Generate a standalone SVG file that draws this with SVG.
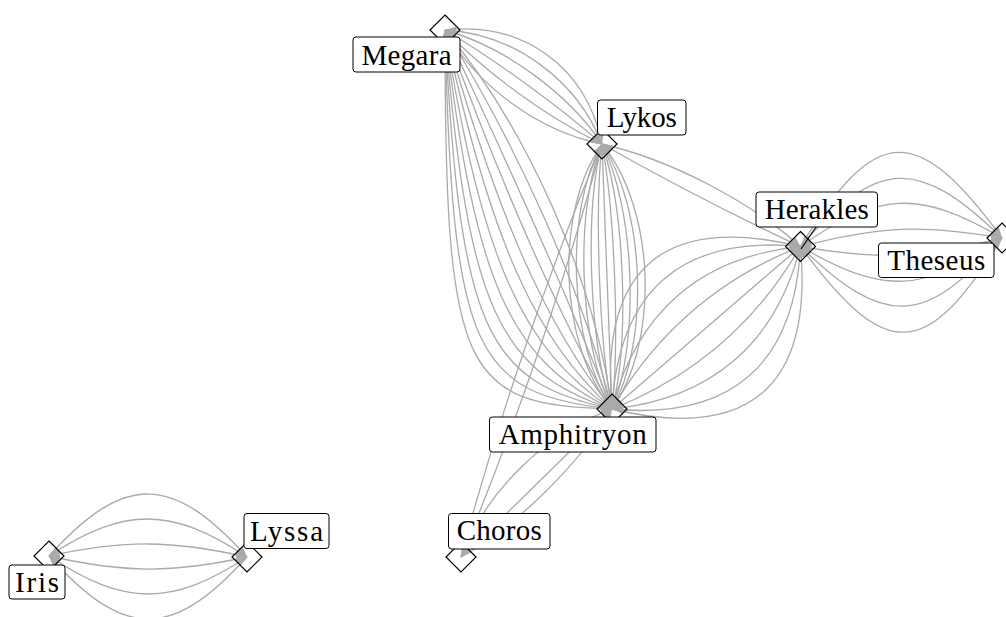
<svg xmlns="http://www.w3.org/2000/svg" width="1006" height="617" viewBox="0 0 1006 617">
<style>
.e{fill:none;stroke:#aaaaaa;stroke-width:1.3;marker-end:url(#ah)}
.d{fill:none;stroke:#000;stroke-width:1.2}
.b{fill:#fff;stroke:#000;stroke-width:1}
.t{font-family:"Liberation Serif",serif;font-size:29px;fill:#000;text-anchor:middle}
</style>
<defs>
<marker id="ah" markerUnits="userSpaceOnUse" markerWidth="11" markerHeight="8" refX="11" refY="4" orient="auto">
<path d="M0,0 L11,4 L0,8 z" fill="#aaaaaa"/>
</marker>
</defs>
<rect width="1006" height="617" fill="#fff"/>
<g id="connectors">
<path class="e" d="M49,556 C124.2,473.1 171.8,473.3 247,557"/>
<path class="e" d="M247,557 C171.8,506.6 124.2,506.4 49,556"/>
<path class="e" d="M49,556 C124.2,539.7 171.8,539.9 247,557"/>
<path class="e" d="M247,557 C171.8,573.3 124.2,573.1 49,556"/>
<path class="e" d="M49,556 C124.2,606.4 171.8,606.6 247,557"/>
<path class="e" d="M247,557 C171.8,639.9 124.2,639.7 49,556"/>
<path class="e" d="M800.5,246.5 C876.1,123.2 916.4,121.5 1002,238"/>
<path class="e" d="M1002,238 C917.8,156.2 877.5,157.9 800.5,246.5"/>
<path class="e" d="M800.5,246.5 C878.9,191.2 919.2,189.5 1002,238"/>
<path class="e" d="M1002,238 C920.7,224.1 880.4,225.8 800.5,246.5"/>
<path class="e" d="M800.5,246.5 C881.8,260.4 922.1,258.7 1002,238"/>
<path class="e" d="M1002,238 C923.6,293.3 883.3,295 800.5,246.5"/>
<path class="e" d="M800.5,246.5 C884.7,328.3 925,326.6 1002,238"/>
<path class="e" d="M1002,238 C926.4,361.3 886.1,363 800.5,246.5"/>
<path class="e" d="M612,409 C599.3,268.6 663.4,213.3 800.5,246.5"/>
<path class="e" d="M800.5,246.5 C682.1,235 618,290.3 612,409"/>
<path class="e" d="M612,409 C636.8,312 700.9,256.7 800.5,246.5"/>
<path class="e" d="M800.5,246.5 C719.6,278.4 655.5,333.7 612,409"/>
<path class="e" d="M612,409 C674.2,355.4 738.3,300.1 800.5,246.5"/>
<path class="e" d="M800.5,246.5 C757,321.8 692.9,377.1 612,409"/>
<path class="e" d="M612,409 C711.6,398.8 775.7,343.5 800.5,246.5"/>
<path class="e" d="M800.5,246.5 C794.5,365.2 730.4,420.5 612,409"/>
<path class="e" d="M612,409 C749.1,442.2 813.2,386.9 800.5,246.5"/>
<path class="e" d="M602,144 C553.9,212.2 558.9,344.7 612,409"/>
<path class="e" d="M612,409 C569,344.3 564,211.8 602,144"/>
<path class="e" d="M602,144 C574.1,211.4 579.1,343.9 612,409"/>
<path class="e" d="M612,409 C589.2,343.5 584.2,211 602,144"/>
<path class="e" d="M602,144 C594.4,210.6 599.4,343.1 612,409"/>
<path class="e" d="M612,409 C609.5,342.75 604.5,210.25 602,144"/>
<path class="e" d="M602,144 C614.6,209.9 619.6,342.4 612,409"/>
<path class="e" d="M612,409 C629.8,342 624.8,209.5 602,144"/>
<path class="e" d="M602,144 C634.9,209.1 639.9,341.6 612,409"/>
<path class="e" d="M612,409 C650,341.2 645,208.7 602,144"/>
<path class="e" d="M602,144 C655.1,208.3 660.1,340.8 612,409"/>
<path class="e" d="M445,30 C445,375 462,405 612,409"/>
<path class="e" d="M612,409 C474.1,393.7 452.5,352.7 445,30"/>
<path class="e" d="M445,30 C460.1,330.3 486.1,382.4 612,409"/>
<path class="e" d="M612,409 C498.2,371.1 467.6,308 445,30"/>
<path class="e" d="M445,30 C475.2,285.6 510.3,359.8 612,409"/>
<path class="e" d="M612,409 C522.4,348.5 482.7,263.3 445,30"/>
<path class="e" d="M445,30 C490.3,240.9 534.4,337.3 612,409"/>
<path class="e" d="M612,409 C546.5,326 497.8,218.6 445,30"/>
<path class="e" d="M445,30 C505.4,196.2 558.6,314.7 612,409"/>
<path class="e" d="M612,409 C570.7,303.4 512.9,173.9 445,30"/>
<path class="e" d="M445,30 C520.5,151.5 582.7,292.1 612,409"/>
<path class="e" d="M612,409 C594.8,280.8 528,129.2 445,30"/>
<path class="e" d="M445,30 C523.4,21.1 586.2,66.7 602,144"/>
<path class="e" d="M602,144 C576.8,79.6 514,34 445,30"/>
<path class="e" d="M445,30 C504.6,47 567.4,92.6 602,144"/>
<path class="e" d="M602,144 C558,105.5 495.2,59.9 445,30"/>
<path class="e" d="M445,30 C485.8,72.9 548.6,118.5 602,144"/>
<path class="e" d="M602,144 C539.2,131.4 476.4,85.8 445,30"/>
<path class="e" d="M602,144 C669.5,159.4 748.9,200.4 800.5,246.5"/>
<path class="e" d="M800.5,246.5 C739.7,218.2 660.4,177.2 602,144"/>
<path class="e" d="M461,557 C494.5,430.1 550.9,264.9 602,144"/>
<path class="e" d="M602,144 C568.5,270.9 512.1,436.1 461,557"/>
<path class="e" d="M461,557 C485.8,491.7 546.2,432.5 612,409"/>
<path class="e" d="M612,409 C567.5,454.2 507.1,513.4 461,557"/>
<path class="e" d="M461,557 C518,524.5 578.4,465.3 612,409"/>
</g>
<g id="node-megara">
<polygon class="d" points="445,15 460,30 445,45 430,30"/>
<rect class="b" x="353" y="37" width="107" height="35" rx="3"/>
<text class="t" x="406.5" y="64.5" textLength="90">Megara</text>
</g>
<g id="node-lykos">
<polygon class="d" points="602,129 617,144 602,159 587,144"/>
<rect class="b" x="597.5" y="100" width="88.5" height="35" rx="3"/>
<text class="t" x="641.7" y="127" textLength="70">Lykos</text>
</g>
<g id="node-herakles">
<polygon class="d" points="800.5,231.5 815.5,246.5 800.5,261.5 785.5,246.5"/>
<path d="M801,249 L816,227" stroke="#000" stroke-width="1.2" fill="none"/>
<rect class="b" x="756" y="192" width="121.5" height="35" rx="3"/>
<text class="t" x="816.7" y="218.5" textLength="104">Herakles</text>
</g>
<g id="node-theseus">
<polygon class="d" points="1002,223 1017,238 1002,253 987,238"/>
<rect class="b" x="878.5" y="243" width="115.5" height="34.5" rx="3"/>
<text class="t" x="936.2" y="269.5" textLength="98">Theseus</text>
</g>
<g id="node-amphitryon">
<polygon class="d" points="612,394 627,409 612,424 597,409"/>
<rect class="b" x="489.5" y="417" width="166.5" height="35" rx="3"/>
<text class="t" x="572.7" y="443.5" textLength="148">Amphitryon</text>
</g>
<g id="node-iris">
<polygon class="d" points="49,541 64,556 49,571 34,556"/>
<rect class="b" x="9" y="565" width="56" height="34" rx="3"/>
<text class="t" x="37" y="591.5" textLength="44">Iris</text>
</g>
<g id="node-lyssa">
<polygon class="d" points="247,542 262,557 247,572 232,557"/>
<rect class="b" x="244" y="513.5" width="85" height="35" rx="3"/>
<text class="t" x="286.5" y="540.5" textLength="73">Lyssa</text>
</g>
<g id="node-choros">
<polygon class="d" points="461,542 476,557 461,572 446,557"/>
<rect class="b" x="448.5" y="513.5" width="101.5" height="35.5" rx="3"/>
<text class="t" x="499.2" y="539.5" textLength="85">Choros</text>
</g>
</svg>
